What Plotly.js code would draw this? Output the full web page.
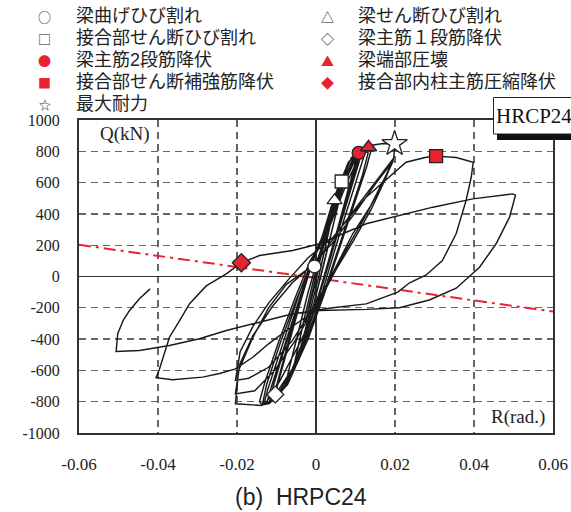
<!DOCTYPE html>
<html>
<head>
<meta charset="utf-8">
<script src="https://cdn.plot.ly/plotly-3.0.1.min.js"></script>
<style>html,body{margin:0;padding:0;background:#fff}#chart{width:571px;height:512px}</style>
</head>
<body>
<div id="chart"></div>
<script>
// ---------- data (drift angle R [rad], shear Q [kN]) ----------
// small cycles (±0.0025, ±0.005 x2, ±0.0075 x2)
var smallR = [0, 0.001, 0.002, 0.0026, 0.0018, 0.0008, 0, -0.001, -0.002, -0.0027, -0.0019, -0.0008, 0.0002,
  0.002, 0.0035, 0.0047, 0.0052, 0.0042, 0.0025, 0.0005, -0.0015, -0.0035, -0.005, -0.0055, -0.0045, -0.0028, -0.0008, 0.0005,
  0.002, 0.0038, 0.0052, 0.0043, 0.0026, 0.0006, -0.0016, -0.0036, -0.0055, -0.0046, -0.0029, -0.0009, 0.0004,
  0.003, 0.0065, 0.0078, 0.0066, 0.0045, 0.002, -0.0005, -0.003, -0.0055, -0.0078, -0.0068, -0.0045, -0.002, 0.0003,
  0.0035, 0.0062, 0.0078, 0.0067, 0.0046, 0.0021, -0.0004, -0.003, -0.0056, -0.0079, -0.0069, -0.0046, -0.0021, 0.0002];
var smallQ = [0, 110, 220, 285, 190, 75, -25, -130, -235, -300, -200, -80, 20,
  200, 360, 486, 520, 400, 200, -20, -220, -420, -540, -570, -450, -250, -40, 80,
  210, 390, 515, 410, 210, -10, -230, -430, -560, -455, -260, -50, 70,
  280, 607, 690, 560, 340, 80, -170, -390, -590, -700, -590, -360, -100, 100,
  350, 590, 700, 570, 350, 90, -160, -390, -590, -710, -600, -370, -110, 90];
// ±0.01 and ±0.015 cycles (dense band)
var midR = [0.004, 0.008, 0.0108, 0.0098, 0.007, 0.004, 0.001, -0.002, -0.006, -0.0103, -0.011, -0.0098, -0.007, -0.004, -0.001,
  0.003, 0.007, 0.0105, 0.0096, 0.0068, 0.0038, 0.0008, -0.0025, -0.0065, -0.0108, -0.0097, -0.0068, -0.0038, -0.0008,
  0.0025, 0.006, 0.0095, 0.0112, 0.0102, 0.0078, 0.0048, 0.0018, -0.0015, -0.005, -0.0088, -0.0118, -0.0108, -0.0082, -0.005, -0.002,
  0.0015, 0.0045, 0.0082, 0.0118, 0.011, 0.0088, 0.006, 0.003, 0, -0.0035, -0.0075, -0.0125, -0.0115, -0.0092, -0.0065, -0.0035, -0.001,
  0.003, 0.007, 0.0105, 0.0133, 0.0142, 0.0128, 0.0095, 0.0058, 0.002, -0.002, -0.007, -0.0115, -0.0136, -0.0143, -0.013, -0.0095, -0.0055, -0.0015,
  0.003, 0.0065, 0.0098, 0.0125, 0.0132, 0.0118, 0.0088, 0.0052, 0.0015, -0.0025, -0.0072, -0.0112, -0.0135, -0.0125, -0.009, -0.005, -0.0012,
  0.002, 0.0052, 0.009, 0.0128, 0.012, 0.0098, 0.0068, 0.0035, 0.0005, -0.003, -0.007, -0.0118, -0.0132, -0.0122, -0.0098, -0.007, -0.004, -0.0012];
var midQ = [370, 650, 790, 690, 440, 170, -90, -330, -590, -754, -790, -680, -420, -140, 110,
  330, 610, 795, 690, 430, 150, -110, -380, -620, -800, -690, -430, -150, 100,
  300, 560, 760, 800, 700, 480, 220, -40, -300, -560, -740, -805, -700, -480, -230, 20,
  250, 500, 730, 815, 740, 560, 320, 60, -190, -450, -690, -815, -720, -540, -330, -90, 110,
  300, 590, 780, 826, 830, 700, 450, 170, -120, -400, -680, -800, -822, -800, -680, -420, -150, 100,
  280, 560, 740, 800, 790, 650, 420, 150, -140, -420, -690, -800, -810, -690, -420, -150, 90,
  280, 530, 760, 822, 760, 580, 340, 70, -190, -440, -680, -812, -818, -720, -540, -320, -90, 90];
// ±0.02 x3
var r20R = [0.003, 0.0075, 0.0115, 0.0145, 0.017, 0.0199, 0.0197, 0.0175, 0.014, 0.0095, 0.005, 0.001, -0.004, -0.009, -0.0125, -0.0139, -0.017, -0.0204,
  -0.0196, -0.016, -0.012, -0.0075, -0.0025, 0.002, 0.008, 0.014, 0.0196, 0.0178, 0.0138, 0.0093, 0.0051, 0.001, -0.005, -0.0105, -0.0155, -0.0204,
  -0.0193, -0.016, -0.011, -0.006, -0.001, 0.004, 0.010, 0.015, 0.0196, 0.0172, 0.0128, 0.0085, 0.0045, 0.0, -0.006, -0.012, -0.017, -0.0204];
var r20Q = [290, 580, 800, 840, 850, 848, 760, 620, 430, 230, 40, -150, -420, -660, -800, -824, -818, -813,
  -600, -390, -200, -50, 40, 160, 370, 570, 754, 650, 450, 273, 59, -140, -400, -600, -730, -750,
  -560, -380, -190, -40, 70, 210, 410, 590, 741, 610, 400, 210, 30, -170, -410, -580, -650, -664];
// ±0.04
var r40R = [-0.0192, -0.016, -0.012, -0.007, -0.002, 0.0043, 0.0127, 0.0194, 0.0228, 0.0279, 0.0304, 0.0355, 0.0398,
  0.0393, 0.038, 0.0355, 0.032, 0.0279, 0.0237, 0.0207, 0.0127, 0.0043, 0, -0.0075, -0.012, -0.016, -0.0204, -0.0244, -0.0287, -0.0363, -0.0405];
var r40Q = [-480, -320, -170, -20, 120, 251, 507, 656, 730, 762, 769, 760, 730,
  634, 486, 275, 102, 10, -40, -100, -175, -200, -215, -345, -430, -516, -590, -620, -643, -660, -647];
// ±0.05 and final unloading
var r50R = [-0.0397, -0.0371, -0.0345, -0.032, -0.0278, -0.0227, -0.0189, -0.0143, -0.0059, 0.0009, 0.0127, 0.0296, 0.0397, 0.0498,
  0.0505, 0.049, 0.0456, 0.0414, 0.0355, 0.0287, 0.0211, 0.0127, 0.0009, -0.0059, -0.0143, -0.0227, -0.0295, -0.0371, -0.0447, -0.0506,
  -0.0502, -0.0488, -0.0472, -0.0447, -0.042];
var r50Q = [-597, -388, -280, -174, -60, 17, 88, 134, 166, 209, 337, 443, 496, 528,
  520, 379, 209, 59, -75, -150, -200, -210, -217, -238, -292, -345, -398, -441, -473, -479,
  -366, -280, -217, -142, -79];

// reference (dash-dot) line
var refLineR = [-0.06, 0.06];
var refLineQ = [203, -224];

// event points
var eventNames = ['梁曲げひび割れ', '梁せん断ひび割れ', '接合部せん断ひび割れ', '梁主筋１段筋降伏',
  '梁主筋2段筋降伏', '梁端部圧壊', '接合部せん断補強筋降伏', '接合部内柱主筋圧縮降伏', '最大耐力'];
var eventR = [-0.0004, 0.0047, 0.0065, -0.0103, 0.0108, 0.0133, 0.0304, -0.0189, 0.0199];
var eventQ = [64, 486, 607, -754, 790, 826, 769, 88, 848];
var eventGlyphs = ['○', '△', '□', '◇', '●', '▲', '■', '◆', '☆'];

var xTicks = [-0.06, -0.04, -0.02, 0, 0.02, 0.04, 0.06];
var xTickText = ['-0.06', '-0.04', '-0.02', '0', '0.02', '0.04', '0.06'];
var yTicks = [-1000, -800, -600, -400, -200, 0, 200, 400, 600, 800, 1000];
var yTickText = ['-1000', '-800', '-600', '-400', '-200', '0', '200', '400', '600', '800', '1000'];

// ---------- styles ----------
var RED = '#e8232f';
var symbols = ['circle', 'triangle-up', 'square', 'diamond', 'circle', 'triangle-up', 'square', 'diamond', 'star'];
var fills = ['#fff', '#fff', '#fff', '#fff', RED, RED, RED, RED, '#fff'];
var glyphColors = ['#222', '#222', '#222', '#222', RED, RED, RED, RED, '#222'];
var chartSizes = [13, 13, 13, 13, 13, 14, 13, 14, 19];
var LEG_FONT = '"Liberation Sans", "Noto Sans CJK JP", sans-serif';
var GLYPH_FONT = '"Noto Sans CJK JP", sans-serif';

var hystR = [].concat(smallR, midR, r20R, r40R, r50R);
var hystQ = [].concat(smallQ, midQ, r20Q, r40Q, r50Q);

var traces = [];
traces.push({x: refLineR, y: refLineQ, mode: 'lines', showlegend: false, hoverinfo: 'skip',
  line: {color: RED, width: 2, dash: '12px,5px,3px,5px'}});
traces.push({x: hystR, y: hystQ, mode: 'lines', showlegend: false, hoverinfo: 'skip',
  line: {color: '#1a1a1a', width: 1.45}});
for (var i = 0; i < eventNames.length; i++) {
  traces.push({x: [eventR[i]], y: [eventQ[i]], mode: 'markers', name: eventNames[i], showlegend: false,
    marker: {symbol: symbols[i], size: chartSizes[i], color: fills[i], line: {color: '#222', width: 1.3}}});
}

function px(x) { return x / 571; }
function py(y) { return 1 - y / 512; }

var annotations = [
  {text: 'HRCP24', xref: 'paper', yref: 'paper', x: px(534), y: py(116), xanchor: 'center', yanchor: 'middle',
    showarrow: false, font: {family: '"Liberation Serif", serif', size: 21, color: '#111'}},
  {text: 'Q(kN)', xref: 'paper', yref: 'paper', x: px(125), y: py(134), xanchor: 'center', yanchor: 'middle',
    showarrow: false, font: {family: '"Liberation Serif", serif', size: 19, color: '#222'}},
  {text: 'R(rad.)', xref: 'paper', yref: 'paper', x: px(518), y: py(417), xanchor: 'center', yanchor: 'middle',
    showarrow: false, font: {family: '"Liberation Serif", serif', size: 19, color: '#222'}},
  {text: '(b)\u00a0\u00a0HRPC24', xref: 'paper', yref: 'paper', x: px(301), y: 0, xanchor: 'center', yanchor: 'bottom',
    showarrow: false, font: {family: '"Liberation Sans", Arial, sans-serif', size: 23, color: '#222'}}
];
// legend (two columns) drawn as text
var legColX = [45, 327], legTextGap = 29, legRowY0 = 16, legRowStep = 22;
for (var k = 0; k < eventNames.length; k++) {
  var col = k % 2, row = Math.floor(k / 2);
  var yy = legRowY0 + row * legRowStep;
  annotations.push({text: eventGlyphs[k], xref: 'paper', yref: 'paper', x: px(legColX[col]), y: py(yy),
    xanchor: 'center', yanchor: 'middle', showarrow: false,
    font: {family: GLYPH_FONT, size: k === 8 ? 12 : 13, color: glyphColors[k]}});
  annotations.push({text: eventNames[k], xref: 'paper', yref: 'paper', x: px(legColX[col] + legTextGap), y: py(yy),
    xanchor: 'left', yanchor: 'middle', showarrow: false,
    font: {family: LEG_FONT, size: 18, color: '#222'}});
}

var layout = {
  width: 571, height: 512,
  margin: {l: 0, r: 0, t: 0, b: 0},
  paper_bgcolor: '#fff', plot_bgcolor: '#fff',
  showlegend: false,
  xaxis: {domain: [px(79), px(553)], range: [-0.06, 0.06], tickvals: xTicks, ticktext: xTickText,
    showgrid: true, gridcolor: '#666', griddash: '7px,5px', gridwidth: 1.3,
    zeroline: true, zerolinecolor: '#333', zerolinewidth: 1.6,
    showline: true, mirror: true, linecolor: '#333', linewidth: 2, ticks: '',
    ticklabelstandoff: 15,
    tickfont: {family: '"Liberation Serif", serif', size: 17, color: '#222'}},
  yaxis: {domain: [py(433), py(120)], range: [-1000, 1000], tickvals: yTicks, ticktext: yTickText,
    showgrid: true, gridcolor: '#666', griddash: '7px,5px', gridwidth: 1.3,
    zeroline: true, zerolinecolor: '#333', zerolinewidth: 1.6,
    showline: true, mirror: true, linecolor: '#333', linewidth: 2, ticks: '',
    ticklabelstandoff: 14,
    tickfont: {family: '"Liberation Serif", serif', size: 16, color: '#222'}},
  shapes: [
    {type: 'rect', xref: 'paper', yref: 'paper', x0: px(493.5), x1: px(590), y0: py(134), y1: py(97.5),
      fillcolor: '#fff', line: {color: '#222', width: 1}, layer: 'above'},
    {type: 'rect', xref: 'paper', yref: 'paper', x0: px(497), x1: px(571), y0: py(140), y1: py(134),
      fillcolor: '#111', line: {width: 0}, layer: 'above'}
  ],
  annotations: annotations
};

Plotly.newPlot('chart', traces, layout, {staticPlot: true, displayModeBar: false});
</script>
</body>
</html>
